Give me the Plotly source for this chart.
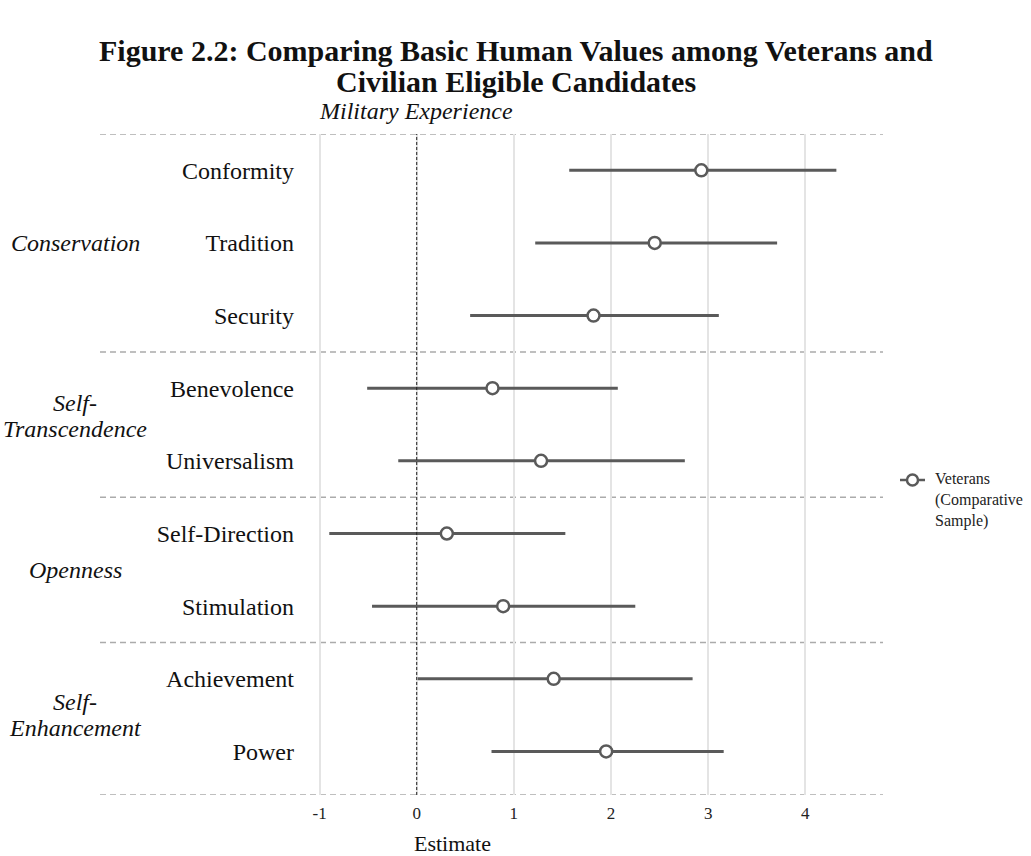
import plotly.graph_objects as go

# Basic human values, top to bottom
values = ["Conformity", "Tradition", "Security", "Benevolence", "Universalism",
          "Self-Direction", "Stimulation", "Achievement", "Power"]
estimate = [2.93, 2.45, 1.82, 0.78, 1.28, 0.31, 0.89, 1.41, 1.95]
ci_low = [1.57, 1.22, 0.55, -0.51, -0.19, -0.90, -0.46, 0.01, 0.77]
ci_high = [4.32, 3.71, 3.11, 2.07, 2.76, 1.53, 2.25, 2.84, 3.16]

groups = [["Conservation"], ["Self-", "Transcendence"], ["Openness"], ["Self-", "Enhancement"]]
group_sizes = [3, 2, 2, 2]

x_ticks = [-1, 0, 1, 2, 3, 4]

title_lines = ["Figure 2.2: Comparing Basic Human Values among Veterans and",
               "Civilian Eligible Candidates"]
legend_lines = ["Veterans", "(Comparative", "Sample)"]

n = len(values)
ypos = [n - 1 - i for i in range(n)]  # Conformity at the top

SERIF = "Liberation Serif"
GREY = "#5a5a5a"
INK = "#111111"

# layout geometry (pixels)
W, H = 1031, 856
ML, MR, MT, MB = 305, 148, 134, 61
PW, PH = W - ML - MR, H - MT - MB
LINE_GAP = 26           # px between lines of a group label
GROUP_NUDGE = [0, 9, 0, 0]  # upward px nudge per group label


def px_x(p):
    return (p - ML) / PW


def px_y(p):
    return (H - MB - p) / PH


fig = go.Figure()

fig.add_trace(go.Scatter(
    x=estimate, y=ypos, mode="markers",
    name=" ".join(legend_lines),
    error_x=dict(type="data", symmetric=False,
                 array=[h - e for h, e in zip(ci_high, estimate)],
                 arrayminus=[e - l for e, l in zip(estimate, ci_low)],
                 color=GREY, thickness=3, width=0),
    marker=dict(symbol="circle", size=12, color="white",
                line=dict(color=GREY, width=2.5)),
    showlegend=False, hoverinfo="skip",
))

shapes = []
# group separators
bounds = [n - 0.5]
acc = 0
for s in group_sizes:
    acc += s
    bounds.append(n - 0.5 - acc)
bounds[-1] = -0.6
for b in bounds:
    shapes.append(dict(type="line", xref="paper", yref="y",
                       x0=px_x(100), x1=1.0, y0=b, y1=b,
                       line=dict(color="#ababab", width=1.5, dash="6px,4px"),
                       layer="below"))
# zero reference
shapes.append(dict(type="line", xref="x", yref="paper", x0=0, x1=0, y0=0, y1=1,
                   line=dict(color="#222222", width=1, dash="3px,2px"),
                   layer="above"))

# legend key: line with open circle
key_y = px_y(480)
shapes.append(dict(type="line", xref="paper", yref="paper",
                   x0=px_x(900), x1=px_x(925), y0=key_y, y1=key_y,
                   line=dict(color=GREY, width=2.5)))
shapes.append(dict(type="circle", xref="paper", yref="paper",
                   xsizemode="pixel", ysizemode="pixel",
                   xanchor=px_x(912.5), yanchor=key_y,
                   x0=-5.5, x1=5.5, y0=-5.5, y1=5.5,
                   fillcolor="white", line=dict(color=GREY, width=2.5)))

annotations = []
# title, two lines
for line, yp in zip(title_lines, [50, 82]):
    annotations.append(dict(text="<b>" + line + "</b>", xref="paper", yref="paper",
                            x=px_x(W / 2), y=px_y(yp), xanchor="center", yanchor="middle",
                            showarrow=False,
                            font=dict(family=SERIF, size=30, color=INK)))
# legend text
annotations.append(dict(text="<br>".join(legend_lines), xref="paper", yref="paper",
                        x=px_x(933), y=px_y(500), xanchor="left", align="left",
                        yanchor="middle", showarrow=False,
                        font=dict(family=SERIF, size=16, color="#222222")))
# group labels
acc = 0
for lines, s, nudge in zip(groups, group_sizes, GROUP_NUDGE):
    centre = n - 1 - (acc + (s - 1) / 2)
    acc += s
    k = len(lines)
    for j, t in enumerate(lines):
        off = (j - (k - 1) / 2) * LINE_GAP
        annotations.append(dict(text="<i>" + t + "</i>", xref="paper", yref="y",
                                x=px_x(75), y=centre, yshift=nudge - off,
                                xanchor="center", yanchor="middle",
                                showarrow=False,
                                font=dict(family=SERIF, size=24, color=INK)))
annotations.append(dict(text="<i>Military Experience</i>", xref="paper", yref="paper",
                        x=px_x(416), y=px_y(111), xanchor="center",
                        yanchor="middle", showarrow=False,
                        font=dict(family=SERIF, size=24, color=INK)))
annotations.append(dict(text="Estimate", xref="paper", yref="paper",
                        x=px_x(452), y=px_y(843), xanchor="center",
                        yanchor="middle", showarrow=False,
                        font=dict(family=SERIF, size=22, color=INK)))

fig.update_layout(
    width=W, height=H,
    margin=dict(l=ML, r=MR, t=MT, b=MB),
    paper_bgcolor="white", plot_bgcolor="white",
    showlegend=False,
    xaxis=dict(range=[-1.15, 4.8], tickvals=x_ticks, ticktext=[str(t) for t in x_ticks],
               showgrid=True, gridcolor="#e4e4e4", gridwidth=1.5,
               zeroline=False, showline=False, ticks="",
               ticklabelstandoff=6,
               tickfont=dict(family=SERIF, size=17, color="#222222")),
    yaxis=dict(range=[-0.6, n - 0.5], tickvals=ypos, ticktext=values,
               showgrid=False, zeroline=False, showline=False, ticks="",
               ticklabelstandoff=10,
               tickfont=dict(family=SERIF, size=24, color=INK)),
    shapes=shapes, annotations=annotations,
)

fig.write_html("out.html")
